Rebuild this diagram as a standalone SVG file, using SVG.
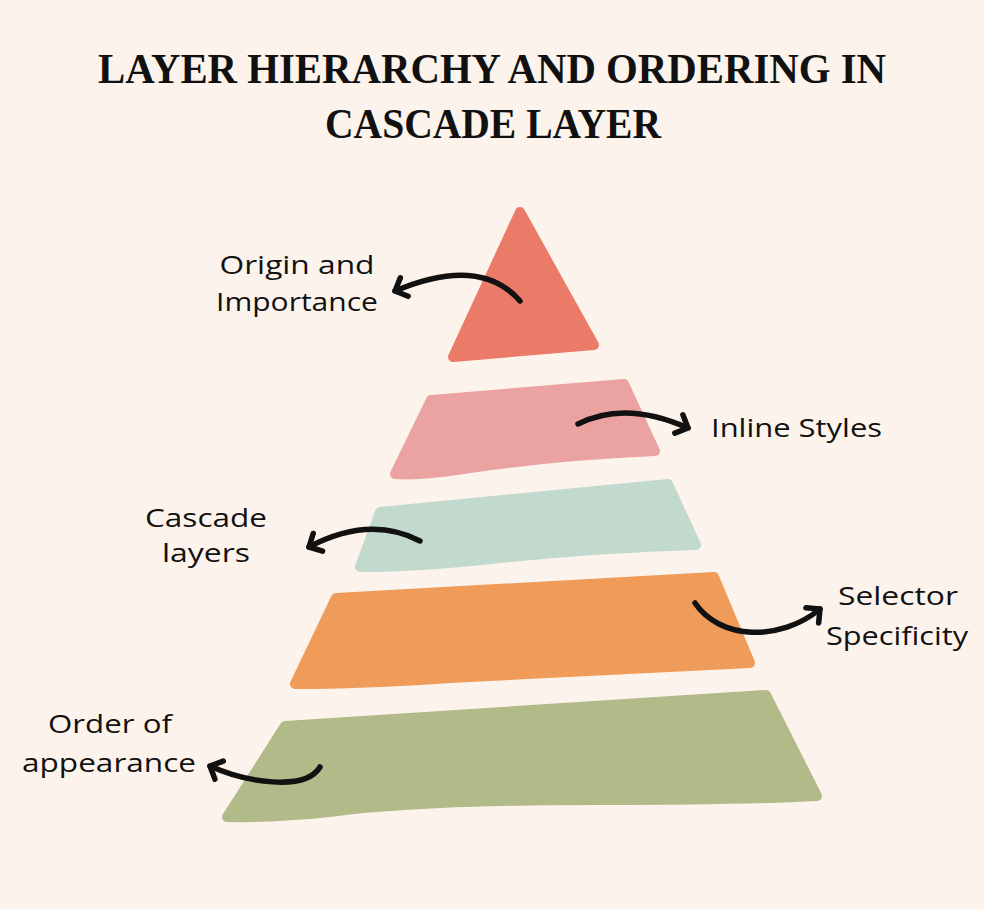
<svg xmlns="http://www.w3.org/2000/svg" width="984" height="909" viewBox="0 0 984 909">
<defs>
<style>
.title{font-family:"Liberation Serif",serif;font-weight:bold;font-size:42px;fill:#111}
.lbl{font-family:"Open Sans","DejaVu Sans",sans-serif;font-size:26px;fill:#111}
.arr{fill:none;stroke:#111;stroke-width:5.5;stroke-linecap:round}
.shape{stroke-width:10;stroke-linejoin:round}
</style>
<marker id="ah" markerUnits="userSpaceOnUse" markerWidth="30" markerHeight="30" refX="0" refY="0" viewBox="-15 -15 30 30" orient="auto" overflow="visible">
<path d="M-10,-10 L0,0 L-10,10" fill="none" stroke="#111" stroke-width="5.5" stroke-linecap="round" stroke-linejoin="round"/>
</marker>
</defs>
<rect width="984" height="909" fill="#FCF4EC"/>
<text class="title" x="492" y="83" text-anchor="middle" textLength="788" lengthAdjust="spacingAndGlyphs">LAYER HIERARCHY AND ORDERING IN</text>
<text class="title" x="493" y="138" text-anchor="middle" textLength="336" lengthAdjust="spacingAndGlyphs">CASCADE LAYER</text>

<g id="layer-origin">
<path class="shape" fill="#E97B68" stroke="#E97B68" d="M520,212 L594,345 L453,357 Z"/>
</g>
<g id="layer-inline">
<path class="shape" fill="#EBA3A2" stroke="#EBA3A2" d="M431,400 L624,384 L655,451 Q560,455 470,468 Q420,476 395,474 Z"/>
</g>
<g id="layer-cascade">
<path class="shape" fill="#C2D9CE" stroke="#C2D9CE" d="M380,512 L668,484 L696,545 Q600,548 500,558 Q420,567 360,567 Z"/>
</g>
<g id="layer-selector">
<path class="shape" fill="#EF9C5A" stroke="#EF9C5A" d="M336,598 L714,577 L750,663 Q600,670 450,678 Q360,684 295,684 Z"/>
</g>
<g id="layer-order">
<path class="shape" fill="#B2BA8A" stroke="#B2BA8A" d="M285,726 L766,695 L817,796 Q740,800 600,800 Q420,800 330,812 Q270,818 227,817 Z"/>
</g>

<g id="connectors">
<path class="arr" marker-end="url(#ah)" d="M520,301 Q480,255 395,291"/>
<path class="arr" marker-end="url(#ah)" d="M578,424 Q625,400 688,428"/>
<path class="arr" marker-end="url(#ah)" d="M420,541 Q370,515 309,547"/>
<path class="arr" marker-end="url(#ah)" d="M695,603 C720,640 780,642 820,609"/>
<path class="arr" marker-end="url(#ah)" d="M320,767 C305,792 245,782 210,766"/>
</g>

<g id="labels">
<text class="lbl" x="297" y="274" text-anchor="middle" textLength="155" lengthAdjust="spacingAndGlyphs">Origin and</text>
<text class="lbl" x="297" y="311" text-anchor="middle" textLength="162" lengthAdjust="spacingAndGlyphs">Importance</text>
<text class="lbl" x="711" y="437" textLength="171" lengthAdjust="spacingAndGlyphs">Inline Styles</text>
<text class="lbl" x="206" y="527" text-anchor="middle" textLength="122" lengthAdjust="spacingAndGlyphs">Cascade</text>
<text class="lbl" x="206" y="562" text-anchor="middle" textLength="88" lengthAdjust="spacingAndGlyphs">layers</text>
<text class="lbl" x="898" y="605" text-anchor="middle" textLength="120" lengthAdjust="spacingAndGlyphs">Selector</text>
<text class="lbl" x="897" y="645" text-anchor="middle" textLength="142" lengthAdjust="spacingAndGlyphs">Specificity</text>
<text class="lbl" x="110" y="733" text-anchor="middle" textLength="124" lengthAdjust="spacingAndGlyphs">Order of</text>
<text class="lbl" x="109" y="772" text-anchor="middle" textLength="174" lengthAdjust="spacingAndGlyphs">appearance</text>
</g>
</svg>
